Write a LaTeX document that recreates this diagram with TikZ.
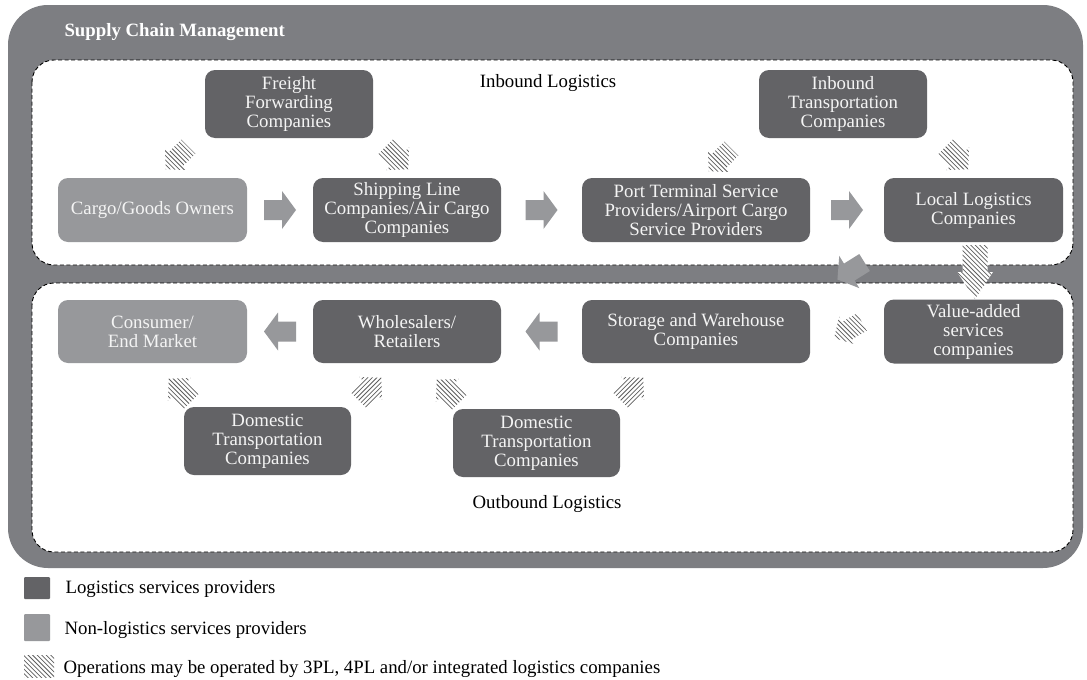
\documentclass[tikz,border=0pt]{standalone}
\usepackage{fontspec}
\setmainfont{Liberation Serif}
\usetikzlibrary{calc}

\definecolor{bandgray}{HTML}{7D7E82}
\definecolor{provdark}{HTML}{636366}
\definecolor{provlight}{HTML}{97989B}
\definecolor{hatchgray}{HTML}{5E5E5E}
\definecolor{boxtext}{HTML}{F4F4F4}

\tikzset{
  every node/.style={font=\fontsize{18.8}{19}\selectfont},
  frame/.style={draw=black, dash pattern=on 4pt off 2.5pt, line width=0.9pt,
                fill=white, rounded corners=22pt},
  provider/.style={fill=provdark, text=boxtext, rounded corners=10pt,
                   align=center, inner sep=0pt},
  client/.style={provider, fill=provlight},
  hatchline/.style={draw=hatchgray, line width=0.75pt},
  blockarrow/.pic={\fill[provlight] (-16,-10) -- (2,-10) -- (2,-19) -- (16,0)
                   -- (2,19) -- (2,10) -- (-16,10) -- cycle;}
}

% white ground with diagonal strokes, clipped by the current path
\newcommand\hatchlines[1]{%
  \fill[white] (-40,-40) rectangle (40,40);
  \foreach \k in {-16,...,16} {\draw[hatchline, rotate=#1] (\k*3.2,-45) -- (\k*3.2,45);}}
% small striped arrow: centre, direction, stroke angle
\newcommand\hatchmark[3]{%
  \begin{scope}[shift={#1}]
    \clip[rotate=#2] (-16,-10) -- (1,-10) -- (1,-16) -- (16,0) -- (1,16) -- (1,10)
                     -- (-16,10) -- cycle;
    \hatchlines{#3}
  \end{scope}}

\begin{document}
\begin{tikzpicture}[x=1pt,y=-1pt]
  \fill[white] (0,0) rectangle (1087,680);
  \useasboundingbox (0,0) rectangle (1087,680);

  % supply chain band and the two logistics frames
  \fill[bandgray, rounded corners=40pt] (8,5) rectangle (1083,568);
  \node[anchor=west, text=white, font=\fontsize{18.8}{19}\selectfont\bfseries]
       (scm) at (61,32) {Supply Chain Management};
  \draw[frame] (32,60) rectangle (1073,265);
  \draw[frame] (32,283) rectangle (1073,552);
  \node (inlab)  at (548,83)  {Inbound Logistics};
  \node (outlab) at (547,504) {Outbound Logistics};

  % inbound row
  \node[provider, minimum width=168pt, minimum height=68pt] (freight) at (289,104)
       {Freight\\Forwarding\\Companies};
  \node[provider, minimum width=168pt, minimum height=68pt] (inbtrans) at (843,104)
       {Inbound\\Transportation\\Companies};
  \node[client, minimum width=189pt, minimum height=64pt] (cargo) at (152.5,210)
       {Cargo/Goods Owners};
  \node[provider, minimum width=188pt, minimum height=64pt] (ship) at (407,210)
       {Shipping Line\\Companies/Air Cargo\\Companies};
  \node[provider, minimum width=228pt, minimum height=64pt] (port) at (696,210)
       {Port Terminal Service\\Providers/Airport Cargo\\Service Providers};
  \node[provider, minimum width=179pt, minimum height=64pt] (local) at (973.5,210)
       {Local Logistics\\Companies};

  % outbound row
  \node[client, minimum width=189pt, minimum height=63pt] (consumer) at (152.5,331.5)
       {Consumer/\\End Market};
  \node[provider, minimum width=188pt, minimum height=63pt] (whole) at (407,331.5)
       {Wholesalers/\\Retailers};
  \node[provider, minimum width=228pt, minimum height=63pt] (storage) at (696,331.5)
       {Storage and Warehouse\\Companies};
  \node[provider, minimum width=179pt, minimum height=64pt] (value) at (973.5,331.5)
       {Value-added\\services\\companies};
  \node[provider, minimum width=167pt, minimum height=68pt] (dom1) at (267.5,441)
       {Domestic\\Transportation\\Companies};
  \node[provider, minimum width=167pt, minimum height=68pt] (dom2) at (536.5,443)
       {Domestic\\Transportation\\Companies};

  % flow arrows
  \pic at ($(cargo.east)!.5!(ship.west)$) {blockarrow};
  \pic at ($(ship.east)!.5!(port.west)$) {blockarrow};
  \pic at ($(port.east)!.5!(local.west)$) {blockarrow};
  \pic[rotate=180] at ($(consumer.east)!.5!(whole.west)$) {blockarrow};
  \pic[rotate=180] at ($(whole.east)!.5!(storage.west)$) {blockarrow};
  \pic[rotate=212] at (851,271) {blockarrow};

  % operations open to 3PL / 4PL providers
  \hatchmark{(177,158)}{225}{45}
  \hatchmark{(397,158)}{315}{45}
  \hatchmark{(720,160)}{225}{45}
  \hatchmark{(957,158)}{315}{45}
  \hatchmark{(180,390)}{135}{45}
  \hatchmark{(370,389)}{45}{-45}
  \hatchmark{(448,391)}{135}{45}
  \hatchmark{(632,389)}{45}{-45}
  \hatchmark{(848,330)}{210}{45}
  \begin{scope}[shift={(975,272)}]
    \clip (-12.5,-27) -- (12.5,-27) -- (12.5,0) -- (18,0) -- (0,27) -- (-18,0)
          -- (-12.5,0) -- cycle;
    \hatchlines{45}
  \end{scope}

  % legend
  \fill[provdark, rounded corners=1pt] (24,577) rectangle (50,599);
  \node[anchor=west] (leg1) at (62,589) {Logistics services providers};
  \fill[provlight, rounded corners=1pt] (24,614) rectangle (50,641);
  \node[anchor=west] (leg2) at (61,630) {Non-logistics services providers};
  \begin{scope}[shift={(39,666)}]
    \clip (-15,-11) rectangle (15,11);
    \hatchlines{45}
  \end{scope}
  \node[anchor=west] (leg3) at (60,669)
       {Operations may be operated by 3PL, 4PL and/or integrated logistics companies};
\end{tikzpicture}
\end{document}
